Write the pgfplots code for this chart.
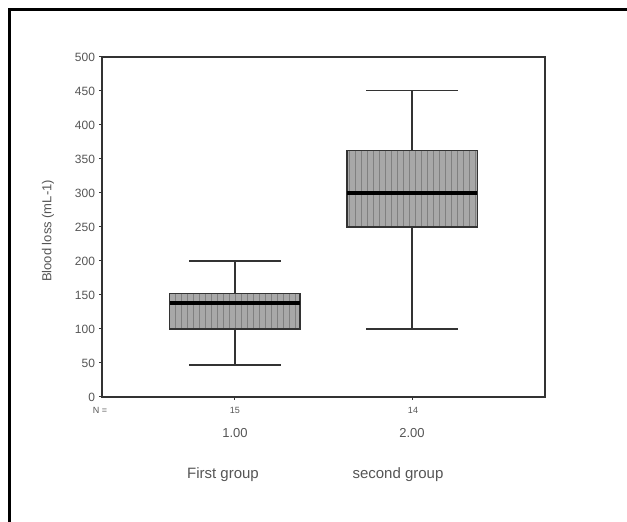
\documentclass[border=0pt]{standalone}
\usepackage{fontspec}
\setmainfont{Liberation Sans}
\usepackage{pgfplots}
\pgfplotsset{compat=1.18}
\usetikzlibrary{patterns}
\definecolor{TxtGray}{HTML}{555555}
\definecolor{AxGray}{HTML}{333333}
\definecolor{BoxFill}{HTML}{A8A8A8}
\begin{document}
\begin{tikzpicture}
  % page = 627x522 px at 0.5pt per px, axis origin at px (102,397)
  \begin{axis}[
      at={(0pt,0pt)}, anchor=south west,
      scale only axis,
      width=221.5pt, height=170pt,
      xmin=0, xmax=1, ymin=0, ymax=500,
      axis line style={AxGray,line width=0.6pt},
      ytick={0,50,100,150,200,250,300,350,400,450,500},
      xtick={0.3,0.7},
      xticklabels={},
      xtick pos=bottom, ytick pos=left,
      tick align=outside,
      major tick length=1.5pt,
      tick style={AxGray,line width=0.5pt},
      yticklabel style={text=TxtGray,font=\fontsize{6}{7}\selectfont,xshift=1.5pt},
      /pgf/number format/assume math mode=true,
      clip=false,
      boxst/.style={draw=AxGray,line width=0.6pt,fill=BoxFill,
        postaction={pattern=vertical lines,pattern color=black!50}},
      wh/.style={AxGray,line width=0.7pt},
      med/.style={black,line width=2pt},
    ]
    % group 1: whiskers 47 / 200, quartiles 100 / 152, median 138
    \addplot[wh] coordinates {(0.3,47)(0.3,100)};
    \addplot[wh] coordinates {(0.3,152)(0.3,200)};
    \addplot[wh] coordinates {(0.1965,47)(0.4035,47)};
    \addplot[wh] coordinates {(0.1965,200)(0.4035,200)};
    \addplot[boxst] coordinates {(0.153,100)(0.447,100)(0.447,152)(0.153,152)} -- cycle;
    \addplot[med] coordinates {(0.153,138)(0.447,138)};
    % group 2: whiskers 100 / 451, quartiles 250 / 362, median 300
    \addplot[wh] coordinates {(0.7,100)(0.7,250)};
    \addplot[wh] coordinates {(0.7,362)(0.7,451)};
    \addplot[wh] coordinates {(0.5965,100)(0.8035,100)};
    \addplot[wh] coordinates {(0.5965,451)(0.8035,451)};
    \addplot[boxst] coordinates {(0.553,250)(0.847,250)(0.847,362)(0.553,362)} -- cycle;
    \addplot[med] coordinates {(0.553,300)(0.847,300)};
  \end{axis}
  \begin{scope}[text=TxtGray]
    \node[font=\fontsize{4.5}{5}\selectfont] at (-1pt,-6.5pt) {N =};
    \node[font=\fontsize{4.5}{5}\selectfont] at (66.5pt,-6.5pt) {15};
    \node[font=\fontsize{4.5}{5}\selectfont] at (155.5pt,-6.5pt) {14};
    \node[font=\fontsize{6.5}{7}\selectfont] at (66.5pt,-18pt) {1.00};
    \node[font=\fontsize{6.5}{7}\selectfont] at (155pt,-18pt) {2.00};
    \node[font=\fontsize{7.5}{8}\selectfont] at (60.5pt,-39pt) {First group};
    \node[font=\fontsize{7.5}{8}\selectfont] at (148pt,-39pt) {second group};
    \node[rotate=90,font=\fontsize{6.5}{7}\selectfont] at (-27pt,83pt) {Blood loss (mL-1)};
  \end{scope}
  \draw[black,line width=1.5pt] (-46pt,-62.5pt) -- (-46pt,193.5pt) -- (262.5pt,193.5pt);
  \pgfresetboundingbox
  \path (-51pt,-62.5pt) rectangle (262.5pt,198.5pt);
\end{tikzpicture}
\end{document}
